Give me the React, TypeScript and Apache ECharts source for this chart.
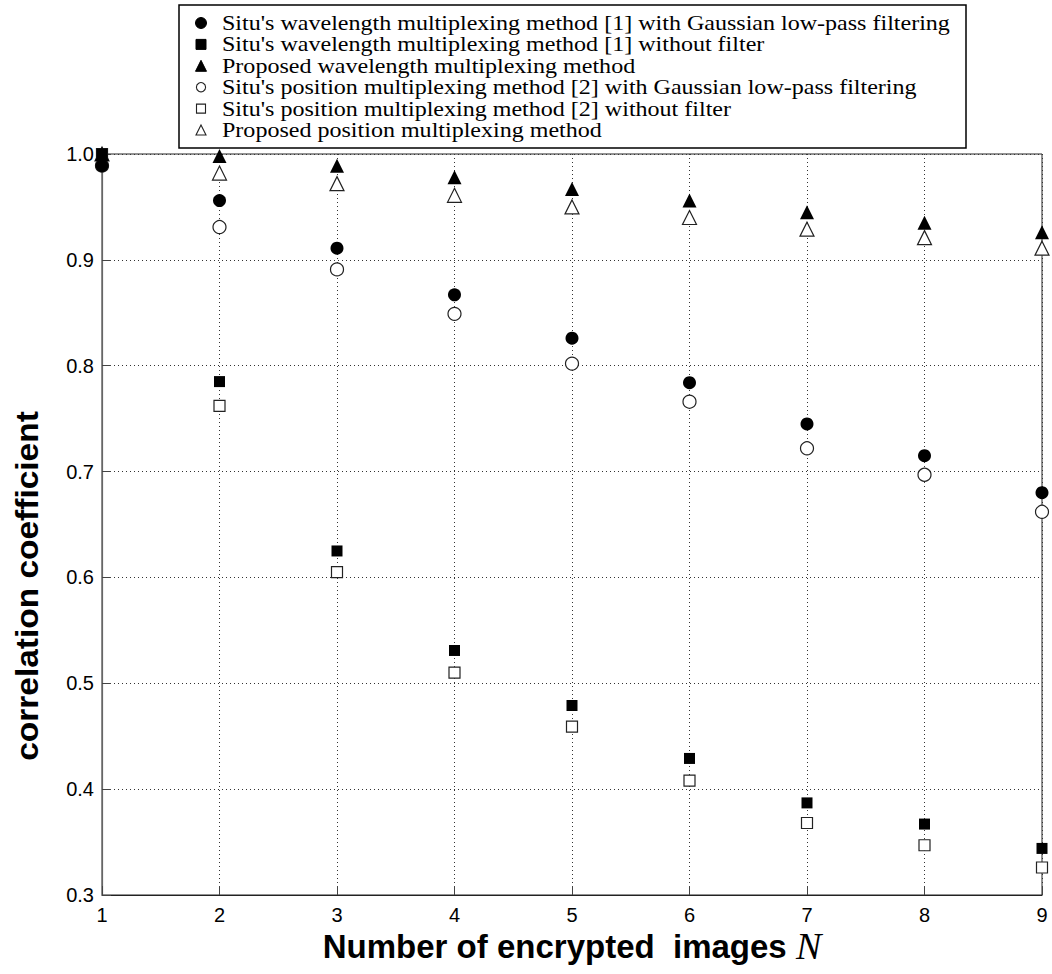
import React, { useEffect, useRef } from "react";
import * as echarts from "echarts";

const nValues = [1, 2, 3, 4, 5, 6, 7, 8, 9];
const wlGauss = [0.989, 0.956, 0.911, 0.867, 0.826, 0.784, 0.745, 0.715, 0.68];
const wlNoFilter = [1.0, 0.785, 0.625, 0.531, 0.479, 0.429, 0.387, 0.367, 0.344];
const wlProposed = [1.0, 0.998, 0.989, 0.978, 0.967, 0.956, 0.945, 0.935, 0.926];
const posGauss = [0.989, 0.931, 0.891, 0.849, 0.802, 0.766, 0.722, 0.697, 0.662];
const posNoFilter = [1.0, 0.762, 0.605, 0.51, 0.459, 0.408, 0.368, 0.347, 0.326];
const posProposed = [1.0, 0.982, 0.972, 0.961, 0.95, 0.94, 0.929, 0.921, 0.911];

const seriesNames = [
  "Situ's wavelength multiplexing method [1] with Gaussian low-pass filtering",
  "Situ's wavelength multiplexing method [1] without filter",
  "Proposed wavelength multiplexing method",
  "Situ's position multiplexing method [2] with Gaussian low-pass filtering",
  "Situ's position multiplexing method [2] without filter",
  "Proposed position multiplexing method",
];
const legendKinds = ["circle", "rect", "triangle", "circle", "rect", "triangle"];
const legendFilled = [true, true, true, false, false, false];

const xTitle = "Number of encrypted  images ";
const yTitle = "correlation coefficient";

const SANS = "'Liberation Sans', Arial, Helvetica, sans-serif";
const SERIF = "'Liberation Serif', 'Times New Roman', serif";

function legendIcon(kind: string, filled: boolean, cx: number, cy: number) {
  const style = filled
    ? { fill: "#000", stroke: "#000", lineWidth: 1 }
    : { fill: "#fff", stroke: "#222", lineWidth: 1.1 };
  if (kind === "circle") {
    return { type: "circle", shape: { cx, cy, r: filled ? 5.5 : 4.6 }, style };
  }
  if (kind === "rect") {
    const s = filled ? 10 : 9;
    return { type: "rect", shape: { x: cx - s / 2, y: cy - s / 2, width: s, height: s }, style };
  }
  const h = filled ? 11 : 10;
  const w = filled ? 11 : 10;
  return {
    type: "polygon",
    shape: { points: [[cx, cy - h / 2], [cx + w / 2, cy + h / 2], [cx - w / 2, cy + h / 2]] },
    style,
  };
}

export default function App() {
  const ref = useRef<HTMLDivElement>(null);
  useEffect(() => {
    if (!ref.current) return;
    const chart = echarts.init(ref.current, undefined, { renderer: "svg" });
    const pts = (arr: number[]) => nValues.map((n, i) => [n, arr[i]]);
    const filled = { color: "#000", opacity: 1 };
    const open = { color: "#fff", borderColor: "#222", borderWidth: 1.2, opacity: 1 };
    const mk = (name: string, data: number[], symbol: string, size: number, style: any) => ({
      name,
      type: "scatter",
      data: pts(data),
      symbol,
      symbolSize: size,
      itemStyle: style,
      clip: false,
    });

    const legendRows: any[] = [];
    seriesNames.forEach((name, i) => {
      const cy = 23 + i * 21.4;
      legendRows.push(legendIcon(legendKinds[i], legendFilled[i], 201, cy));
      legendRows.push({
        type: "text",
        x: 222,
        y: cy,
        scaleX: 1.145,
        style: {
          text: name,
          font: `21px ${SERIF}`,
          fill: "#000",
          align: "left",
          verticalAlign: "middle",
        },
      });
    });

    chart.setOption({
      animation: false,
      backgroundColor: "#fff",
      grid: { left: 102, right: 10, top: 154, bottom: 79, show: true, borderColor: "#222", borderWidth: 1 },
      xAxis: {
        type: "value",
        min: 1,
        max: 9,
        interval: 1,
        axisLine: { show: true, onZero: false, lineStyle: { color: "#222", width: 1.2 } },
        axisTick: { show: true, inside: true, length: 9, lineStyle: { color: "#444" } },
        axisLabel: { color: "#000", fontSize: 20, fontFamily: SANS, margin: 10 },
        splitLine: { show: true, lineStyle: { color: "#333", width: 1, type: [1, 3] } },
      },
      yAxis: {
        type: "value",
        min: 0.3,
        max: 1.0,
        interval: 0.1,
        axisLine: { show: true, lineStyle: { color: "#666", width: 1.2 } },
        axisTick: { show: true, inside: true, length: 9, lineStyle: { color: "#444" } },
        axisLabel: {
          color: "#000",
          fontSize: 20,
          fontFamily: SANS,
          margin: 8,
          formatter: (v: number) => v.toFixed(1),
        },
        splitLine: { show: true, lineStyle: { color: "#333", width: 1, type: [1, 3] } },
      },
      legend: { show: false, data: seriesNames },
      graphic: [
        {
          type: "rect",
          shape: { x: 179, y: 5, width: 787, height: 143 },
          style: { fill: "#fff", stroke: "#000", lineWidth: 1.5 },
          z: 0,
        },
        { type: "group", children: legendRows, z: 1 },
        {
          type: "text",
          x: 572,
          y: 946,
          style: {
            text: xTitle + "{n|N}",
            font: `bold 33px ${SANS}`,
            fill: "#000",
            align: "center",
            verticalAlign: "middle",
            rich: { n: { font: `italic 38px ${SERIF}`, fill: "#000" } },
          },
        },
        {
          type: "text",
          x: 27,
          y: 586,
          rotation: Math.PI / 2,
          scaleX: 1.08,
          style: {
            text: yTitle,
            font: `bold 31px ${SANS}`,
            fill: "#000",
            align: "center",
            verticalAlign: "middle",
          },
        },
      ],
      series: [
        mk(seriesNames[3], posGauss, "circle", 13, open),
        mk(seriesNames[4], posNoFilter, "rect", 11, open),
        mk(seriesNames[5], posProposed, "triangle", 14, open),
        mk(seriesNames[0], wlGauss, "circle", 13, filled),
        mk(seriesNames[1], wlNoFilter, "rect", 11, filled),
        mk(seriesNames[2], wlProposed, "triangle", 14, filled),
      ],
    });
    return () => chart.dispose();
  }, []);
  return (
    <div
      ref={ref}
      style={{ position: "absolute", left: 0, top: 0, width: 1052, height: 974, background: "#fff" }}
    />
  );
}
